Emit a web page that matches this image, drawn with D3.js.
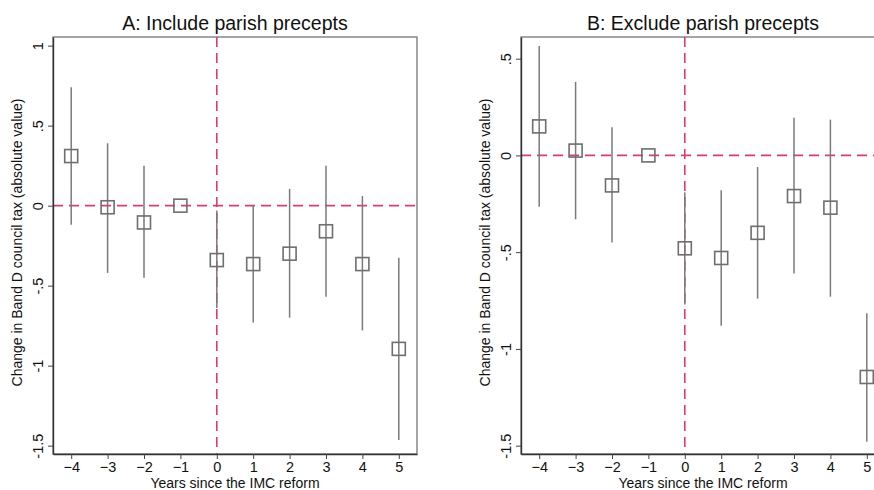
<!DOCTYPE html>
<html>
<head>
<meta charset="utf-8">
<script src="https://cdn.jsdelivr.net/npm/d3@7"></script>
<style>
  html, body { margin: 0; padding: 0; background: #fff; }
  svg { display: block; font-family: "Liberation Sans", Arial, sans-serif; }
</style>
</head>
<body>
<svg id="chart" width="874" height="490"></svg>
<script>
// Event-study estimates: years relative to the IMC reform
const years = [-4, -3, -2, -1, 0, 1, 2, 3, 4, 5];

// Panel A: including parish precepts
const estA = [0.31, -0.01, -0.105, 0, -0.34, -0.365, -0.30, -0.16, -0.365, -0.895];
const loA  = [-0.12, -0.42, -0.45, null, -0.64, -0.73, -0.70, -0.57, -0.78, -1.465];
const hiA  = [0.74, 0.39, 0.25, null, -0.03, 0.005, 0.105, 0.25, 0.06, -0.325];

// Panel B: excluding parish precepts
const estB = [0.15, 0.025, -0.155, 0, -0.48, -0.53, -0.40, -0.21, -0.27, -1.145];
const loB  = [-0.265, -0.33, -0.45, null, -0.77, -0.88, -0.74, -0.61, -0.73, -1.48];
const hiB  = [0.565, 0.38, 0.145, null, -0.19, -0.18, -0.06, 0.195, 0.185, -0.815];

const xTicks = [-4, -3, -2, -1, 0, 1, 2, 3, 4, 5];
const yTicksA = [-1.5, -1, -0.5, 0, 0.5, 1];
const yTicksB = [-1.5, -1, -0.5, 0, 0.5];
const titleA = "A: Include parish precepts";
const titleB = "B: Exclude parish precepts";
const xTitle = "Years since the IMC reform";
const yTitle = "Change in Band D council tax (absolute value)";

const svg = d3.select("#chart");
const refColor = "#dc3d6b";

// Stata-style tick labels: ".5", "-.5", "-1.5"
const fmtTick = v => {
  if (v === 0) return "0";
  return String(v).replace(/^(-?)0\./, "$1.");
};

function panel(opts) {
  const { left, right, top, bottom, xDomain, yDomain, yTicks, est, lo, hi, title } = opts;
  const x = d3.scaleLinear().domain(xDomain).range([left, right]);
  const y = d3.scaleLinear().domain(yDomain).range([bottom, top]);
  const g = svg.append("g");

  // frame
  g.append("rect")
    .attr("x", left).attr("y", top)
    .attr("width", right - left).attr("height", bottom - top)
    .attr("fill", "none").attr("stroke", "#6a6a6a").attr("stroke-width", 1.2);

  // reference lines at zero
  g.append("line")
    .attr("x1", left).attr("x2", right)
    .attr("y1", y(0)).attr("y2", y(0))
    .attr("stroke", refColor).attr("stroke-width", 1.6)
    .attr("stroke-dasharray", "10,6");
  g.append("line")
    .attr("x1", x(0)).attr("x2", x(0))
    .attr("y1", top).attr("y2", bottom)
    .attr("stroke", refColor).attr("stroke-width", 1.6)
    .attr("stroke-dasharray", "10,6");

  const rows = years.map((yr, i) => ({ yr, est: est[i], lo: lo[i], hi: hi[i] }));

  // confidence intervals
  g.selectAll(".ci")
    .data(rows.filter(d => d.lo !== null))
    .join("line")
    .attr("x1", d => x(d.yr)).attr("x2", d => x(d.yr))
    .attr("y1", d => y(d.lo)).attr("y2", d => y(d.hi))
    .attr("stroke", "#7a7a7a").attr("stroke-width", 1.5);

  // point estimates as hollow squares
  const s = 13;
  g.selectAll(".pt")
    .data(rows)
    .join("rect")
    .attr("x", d => x(d.yr) - s / 2).attr("y", d => y(d.est) - s / 2)
    .attr("width", s).attr("height", s)
    .attr("fill", "none").attr("stroke", "#6e6e6e").attr("stroke-width", 1.6);

  // axes
  const xAxis = g.append("g")
    .attr("transform", `translate(0,${bottom})`)
    .call(d3.axisBottom(x).tickValues(xTicks).tickSize(5).tickSizeOuter(0).tickPadding(3));
  xAxis.select(".domain").attr("stroke", "#333").attr("stroke-width", 1.4);
  xAxis.selectAll(".tick line").attr("stroke", "#444");
  xAxis.selectAll(".tick text").attr("font-size", 14.5).attr("fill", "#111")
    .attr("font-family", "Liberation Sans, Arial, sans-serif");

  const yAxis = g.append("g")
    .attr("transform", `translate(${left},0)`)
    .call(d3.axisLeft(y).tickValues(yTicks).tickFormat(fmtTick).tickSize(5).tickSizeOuter(0));
  yAxis.select(".domain").attr("stroke", "#333").attr("stroke-width", 1.4);
  yAxis.selectAll(".tick line").attr("stroke", "#444");
  yAxis.selectAll(".tick text")
    .attr("font-size", 14.5).attr("fill", "#111")
    .attr("font-family", "Liberation Sans, Arial, sans-serif")
    .attr("x", null).attr("dy", null)
    .attr("text-anchor", "middle")
    .attr("transform", "translate(-10,0) rotate(-90)")
    .attr("y", 0);

  // titles
  g.append("text")
    .attr("x", opts.titleX).attr("y", 30)
    .attr("text-anchor", "middle").attr("font-size", 19.5).attr("fill", "#111")
    .text(title);
  g.append("text")
    .attr("x", opts.titleX).attr("y", 488)
    .attr("text-anchor", "middle").attr("font-size", 14).attr("fill", "#111")
    .text(xTitle);
  g.append("text")
    .attr("transform", `translate(${left - 31},${(top + bottom) / 2 - 3}) rotate(-90)`)
    .attr("text-anchor", "middle").attr("font-size", 14).attr("fill", "#111")
    .text(yTitle);
}

panel({
  left: 53, right: 417, top: 37, bottom: 454,
  xDomain: [-4.5, 5.5], yDomain: [-1.552, 1.054],
  yTicks: yTicksA, est: estA, lo: loA, hi: hiA, title: titleA, titleX: 235
});

panel({
  left: 521, right: 885, top: 37, bottom: 454,
  xDomain: [-4.5, 5.5], yDomain: [-1.543, 0.612],
  yTicks: yTicksB, est: estB, lo: loB, hi: hiB, title: titleB, titleX: 703
});
</script>
</body>
</html>
